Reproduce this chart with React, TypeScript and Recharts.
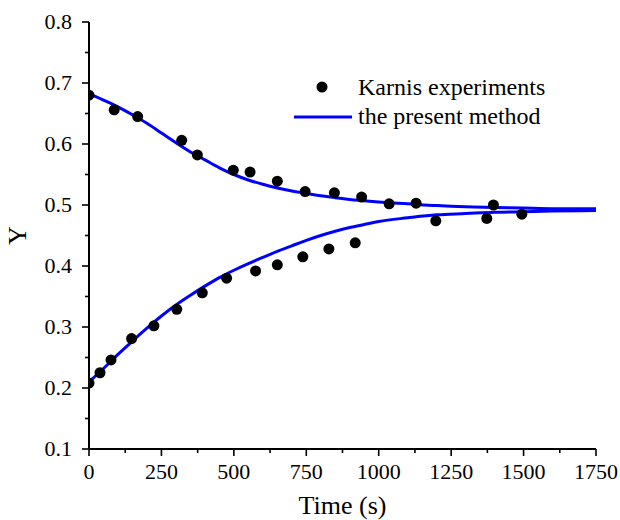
import { ComposedChart, Line, Scatter, XAxis, YAxis, Label } from 'recharts';

// Experimental points (Karnis)
const expUpperTime = [0, 87, 168, 320, 374, 498, 556, 650, 746, 847, 941, 1036, 1129, 1396];
const expUpperY = [0.68, 0.656, 0.645, 0.606, 0.582, 0.557, 0.554, 0.539, 0.522, 0.52, 0.513, 0.502, 0.503, 0.5];
const expLowerTime = [0, 38, 76, 147, 224, 303, 391, 475, 575, 650, 738, 828, 919, 1197, 1373, 1494];
const expLowerY = [0.208, 0.225, 0.246, 0.281, 0.302, 0.329, 0.356, 0.38, 0.392, 0.402, 0.415, 0.428, 0.438, 0.474, 0.478, 0.485];

// Present method curves
const modelTime = [
  0, 50, 100, 150, 200, 250, 300, 350, 400, 450, 500, 550, 600, 650, 700, 750, 800, 850, 900, 950, 1000,
  1100, 1200, 1300, 1400, 1500, 1600, 1750,
];
const modelUpper = [
  0.682, 0.672, 0.661, 0.648, 0.634, 0.618, 0.602, 0.587, 0.574, 0.561, 0.55, 0.541, 0.534, 0.528, 0.523, 0.519,
  0.515, 0.512, 0.509, 0.507, 0.505, 0.502, 0.499, 0.497, 0.496, 0.495, 0.494, 0.494,
];
const modelLower = [
  0.21, 0.232, 0.255, 0.277, 0.298, 0.318, 0.336, 0.352, 0.367, 0.381, 0.393, 0.404, 0.414, 0.424, 0.433, 0.442,
  0.45, 0.457, 0.463, 0.468, 0.473, 0.479, 0.484, 0.486, 0.488, 0.489, 0.49, 0.491,
];

const xTicks = [0, 125, 250, 375, 500, 625, 750, 875, 1000, 1125, 1250, 1375, 1500, 1625, 1750];
const yTicks = [0.1, 0.15, 0.2, 0.25, 0.3, 0.35, 0.4, 0.45, 0.5, 0.55, 0.6, 0.65, 0.7, 0.75, 0.8];

const toPoints = (ts: number[], ys: number[]) => ts.map((t, i) => ({ t, y: ys[i] }));

const upperPoints = toPoints(expUpperTime, expUpperY);
const lowerPoints = toPoints(expLowerTime, expLowerY);
const upperCurve = toPoints(modelTime, modelUpper);
const lowerCurve = toPoints(modelTime, modelLower);

const FONT = '"Liberation Serif", "Times New Roman", serif';
const BLUE = '#0000ff';
const MAJOR = 7;
const MINOR = 4;
const textStyle = { fontFamily: FONT };

const isMajorX = (v: number) => v % 250 === 0;
const isMajorY = (v: number) => Math.abs(v * 10 - Math.round(v * 10)) < 1e-6;

const BottomTick = ({ x, y, payload }: any) => {
  const major = isMajorX(payload.value);
  return (
    <g>
      <line x1={x} y1={y} x2={x} y2={y + (major ? MAJOR : MINOR)} stroke="#000" strokeWidth={1.6} />
      {major && (
        <text x={x} y={y + 30} textAnchor="middle" fontFamily={FONT} style={textStyle} fontSize={22} fill="#000">
          {payload.value}
        </text>
      )}
    </g>
  );
};

const TopTick = ({ x, y, payload }: any) => {
  const len = isMajorX(payload.value) ? MAJOR : MINOR;
  return <line x1={x} y1={y} x2={x} y2={y + len} stroke="#000" strokeWidth={1.6} />;
};

const LeftTick = ({ x, y, payload }: any) => {
  const major = isMajorY(payload.value);
  return (
    <g>
      <line x1={x} y1={y} x2={x - (major ? MAJOR : MINOR)} y2={y} stroke="#000" strokeWidth={1.6} />
      {major && (
        <text
          x={x - 17}
          y={y}
          dy="0.34em"
          textAnchor="end"
          fontFamily={FONT}
          style={textStyle}
          fontSize={22}
          fill="#000"
        >
          {payload.value.toFixed(1)}
        </text>
      )}
    </g>
  );
};

const RightTick = ({ x, y, payload }: any) => {
  const len = isMajorY(payload.value) ? MAJOR : MINOR;
  return <line x1={x} y1={y} x2={x - len} y2={y} stroke="#000" strokeWidth={1.6} />;
};

const Dot = (p: any) => <circle cx={p.cx} cy={p.cy} r={5.5} fill="#000" />;

export default function App() {
  return (
    <div style={{ position: 'absolute', left: 0, top: 0, width: 620, height: 520, background: '#fff' }}>
      <ComposedChart width={620} height={520} margin={{ top: 22, right: 24, bottom: 0, left: 0 }}>
        <XAxis
          xAxisId="main"
          dataKey="t"
          type="number"
          domain={[0, 1750]}
          allowDataOverflow
          ticks={xTicks}
          interval={0}
          height={71}
          tickSize={0}
          tickMargin={0}
          tick={BottomTick}
          axisLine={{ stroke: '#000', strokeWidth: 2 }}
        >
          <Label
            content={({ viewBox }: any) => (
              <text
                x={viewBox.x + viewBox.width / 2}
                y={viewBox.y + 65}
                textAnchor="middle"
                fontFamily={FONT}
                style={textStyle}
                fontSize={26}
                fill="#000"
              >
                Time (s)
              </text>
            )}
          />
        </XAxis>
        <XAxis
          xAxisId="top"
          orientation="top"
          type="number"
          domain={[0, 1750]}
          allowDataOverflow
          ticks={xTicks}
          interval={0}
          height={0}
          tickSize={0}
          tickMargin={0}
          tick={TopTick}
          axisLine={{ stroke: '#000', strokeWidth: 2 }}
        />
        <YAxis
          yAxisId="main"
          type="number"
          domain={[0.1, 0.8]}
          allowDataOverflow
          ticks={yTicks}
          interval={0}
          width={89}
          tickSize={0}
          tickMargin={0}
          tick={LeftTick}
          axisLine={{ stroke: '#000', strokeWidth: 2 }}
        >
          <Label
            content={({ viewBox }: any) => {
              const cx = viewBox.x + 26;
              const cy = viewBox.y + viewBox.height / 2;
              return (
                <text
                  x={cx}
                  y={cy}
                  transform={`rotate(-90, ${cx}, ${cy})`}
                  textAnchor="middle"
                  fontFamily={FONT}
                  style={textStyle}
                  fontSize={26}
                  fill="#000"
                >
                  Y
                </text>
              );
            }}
          />
        </YAxis>
        <YAxis
          yAxisId="right"
          orientation="right"
          type="number"
          domain={[0.1, 0.8]}
          allowDataOverflow
          ticks={yTicks}
          interval={0}
          width={0}
          tickSize={0}
          tickMargin={0}
          tick={RightTick}
          axisLine={{ stroke: '#000', strokeWidth: 2 }}
        />
        <Line
          xAxisId="main"
          yAxisId="main"
          data={upperCurve}
          dataKey="y"
          type="monotone"
          stroke={BLUE}
          strokeWidth={3}
          dot={false}
          isAnimationActive={false}
        />
        <Line
          xAxisId="main"
          yAxisId="main"
          data={lowerCurve}
          dataKey="y"
          type="monotone"
          stroke={BLUE}
          strokeWidth={3}
          dot={false}
          isAnimationActive={false}
        />
        <Scatter xAxisId="main" yAxisId="main" data={upperPoints} dataKey="y" fill="#000" shape={Dot} isAnimationActive={false} />
        <Scatter xAxisId="main" yAxisId="main" data={lowerPoints} dataKey="y" fill="#000" shape={Dot} isAnimationActive={false} />
      </ComposedChart>
      {/* legend */}
      <svg width={620} height={520} style={{ position: 'absolute', left: 0, top: 0, pointerEvents: 'none' }}>
        <circle cx={322} cy={87} r={5.5} fill="#000" />
        <text x={358} y={95} fontFamily={FONT} style={textStyle} fontSize={24} fill="#000">
          Karnis experiments
        </text>
        <line x1={294} y1={117} x2={352} y2={117} stroke={BLUE} strokeWidth={3} />
        <text x={358} y={124} fontFamily={FONT} style={textStyle} fontSize={24} fill="#000">
          the present method
        </text>
      </svg>
    </div>
  );
}
